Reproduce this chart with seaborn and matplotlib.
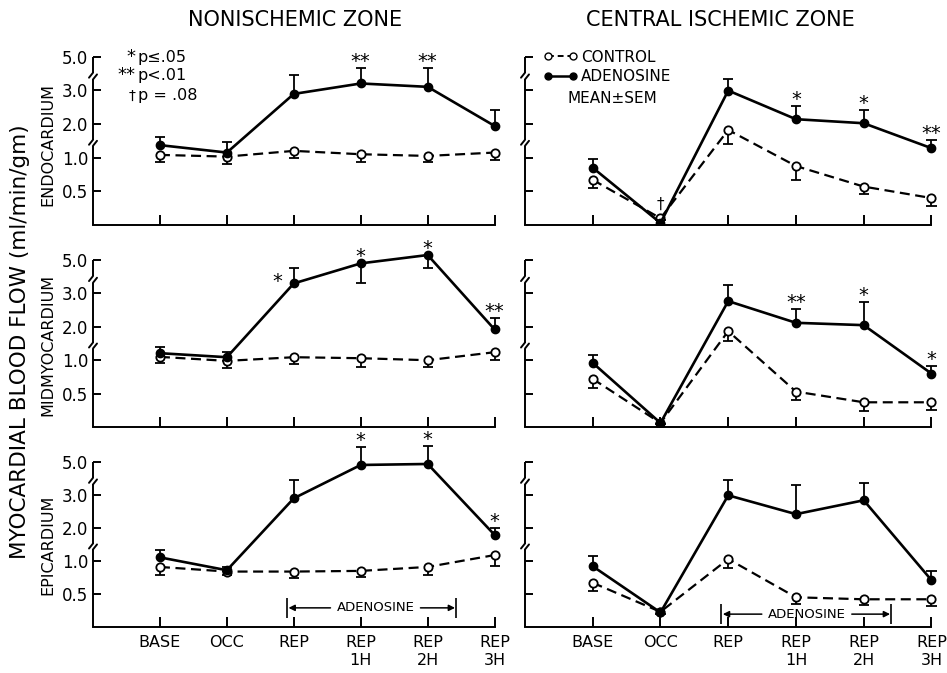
import numpy as np
import matplotlib
matplotlib.use("Agg")
import matplotlib.pyplot as plt
from matplotlib.lines import Line2D
import seaborn as sns

sns.set_theme(style="white")
plt.rcParams['font.family'] = ['DejaVu Sans']
plt.rcParams['text.color'] = 'black'
plt.rcParams['xtick.color'] = 'black'
plt.rcParams['ytick.color'] = 'black'

# categories
timepoints = ['BASE', 'OCC', 'REP', 'REP\n1H', 'REP\n2H', 'REP\n3H']
zones = ['NONISCHEMIC ZONE', 'CENTRAL ISCHEMIC ZONE']
layers = ['ENDOCARDIUM', 'MIDMYOCARDIUM', 'EPICARDIUM']

# broken y axis: 0-1 linear, then 2.0, 3.0, 5.0 equally spaced
ytick_vals = [0.5, 1.0, 2.0, 3.0, 5.0]
ytick_labels = ['0.5', '1.0', '2.0', '3.0', '5.0']

# blood flow (ml/min/gm), mean and SEM
# adenosine SEM: positive = bar drawn up, negative = bar drawn down
# control SEM: bar drawn down
endo_non_ado = [1.37, 1.15, 2.89, 3.40, 3.20, 1.94]
endo_non_ado_sem = [0.25, 0.32, 1.00, 0.90, 1.10, 0.47]
endo_non_ctl = [1.08, 1.03, 1.20, 1.10, 1.05, 1.15]
endo_non_ctl_sem = [0.14, 0.12, 0.20, 0.16, 0.11, 0.19]
endo_non_sig = ['', '', '', '**', '**', '']

endo_isc_ado = [0.85, 0.03, 2.99, 2.14, 2.02, 1.28]
endo_isc_ado_sem = [0.13, 0.0, 0.65, 0.40, 0.40, 0.24]
endo_isc_ctl = [0.67, 0.10, 1.82, 0.875, 0.57, 0.40]
endo_isc_ctl_sem = [0.12, 0.03, 0.42, 0.20, 0.11, 0.12]
endo_isc_sig = ['', '†', '', '*', '*', '**']

mid_non_ado = [1.21, 1.09, 3.60, 4.80, 5.30, 1.92]
mid_non_ado_sem = [0.19, 0.15, 0.90, -1.20, -0.80, 0.33]
mid_non_ctl = [1.10, 0.99, 1.09, 1.06, 1.00, 1.24]
mid_non_ctl_sem = [0.14, 0.10, 0.14, 0.16, 0.10, 0.24]
mid_non_sig = ['', '', '*', '*', '*', '**']

mid_isc_ado = [0.96, 0.06, 2.77, 2.12, 2.05, 0.80]
mid_isc_ado_sem = [0.20, 0.0, 0.73, 0.41, 0.70, 0.11]
mid_isc_ctl = [0.72, 0.06, 1.87, 0.53, 0.37, 0.37]
mid_isc_ctl_sem = [0.14, 0.02, 0.30, 0.13, 0.13, 0.12]
mid_isc_sig = ['', '', '', '**', '*', '*']

epi_non_ado = [1.11, 0.86, 2.90, 4.82, 4.88, 1.79]
epi_non_ado_sem = [0.22, 0.05, 1.00, 1.10, 1.10, 0.20]
epi_non_ctl = [0.91, 0.84, 0.84, 0.85, 0.91, 1.18]
epi_non_ctl_sem = [0.12, 0.05, 0.10, 0.09, 0.12, 0.26]
epi_non_sig = ['', '', '', '*', '*', '*']

epi_isc_ado = [0.92, 0.22, 2.99, 2.42, 2.84, 0.71]
epi_isc_ado_sem = [0.24, 0.0, 0.90, 1.20, 0.86, 0.14]
epi_isc_ctl = [0.67, 0.23, 1.06, 0.45, 0.42, 0.42]
epi_isc_ctl_sem = [0.12, 0.03, 0.16, 0.10, 0.09, 0.10]
epi_isc_sig = ['', '', '', '', '', '']

panels = [
    [(endo_non_ado, endo_non_ado_sem, endo_non_ctl, endo_non_ctl_sem, endo_non_sig),
     (endo_isc_ado, endo_isc_ado_sem, endo_isc_ctl, endo_isc_ctl_sem, endo_isc_sig)],
    [(mid_non_ado, mid_non_ado_sem, mid_non_ctl, mid_non_ctl_sem, mid_non_sig),
     (mid_isc_ado, mid_isc_ado_sem, mid_isc_ctl, mid_isc_ctl_sem, mid_isc_sig)],
    [(epi_non_ado, epi_non_ado_sem, epi_non_ctl, epi_non_ctl_sem, epi_non_sig),
     (epi_isc_ado, epi_isc_ado_sem, epi_isc_ctl, epi_isc_ctl_sem, epi_isc_sig)],
]

# piecewise scale for the broken axis
_vals = np.array([-2.0, 0.0, 0.5, 1.0, 2.0, 3.0, 5.0, 9.0])
_pos = np.array([-4.0, 0.0, 1.0, 2.0, 3.0, 4.0, 5.0, 7.0])


def fwd(v):
    return np.interp(v, _vals, _pos)


def inv(p):
    return np.interp(p, _pos, _vals)


LW = 1.4
x = np.arange(len(timepoints))

fig = plt.figure(figsize=(9.47, 6.73), dpi=100)
W, H = 947, 673
col_left = [93, 525]
col_width = [415, 420]
row_base = [225, 427, 627]
row_height = [188.7, 187, 184.8]


def draw_broken_yaxis(ax):
    trans = ax.get_yaxis_transform()
    for lo, hi in [(0, 1.35), (1.53, 3.64), (4.04, 5.0)]:
        ax.plot([0, 0], [lo, hi], transform=trans, color='black', lw=LW,
                clip_on=False, solid_capstyle='butt')
    for yv, dx, dy in [(1.35, 4, 5), (1.53, -4, -5), (3.64, 4, 5), (4.04, -4, -5)]:
        ax.annotate('', xy=(0, yv), xycoords=trans, xytext=(dx, dy),
                    textcoords='offset pixels',
                    arrowprops=dict(arrowstyle='-', lw=LW, color='black',
                                    shrinkA=0, shrinkB=0))


def draw_errors(ax, xs, means, sems):
    # signed sems: >0 bar up, <0 bar down
    cap = 0.075
    for xi, m, s in zip(xs, means, sems):
        if s == 0:
            continue
        end = m + s
        ax.vlines(xi, m, end, color='black', lw=1.3, zorder=2)
        ax.hlines(end, xi - cap, xi + cap, color='black', lw=1.3, zorder=2)


axes = {}
for r in range(3):
    for c in range(2):
        ado, ado_sem, ctl, ctl_sem, sig = panels[r][c]
        ax = fig.add_axes([col_left[c] / W, (H - row_base[r]) / H,
                           col_width[c] / W, row_height[r] / H])
        axes[(r, c)] = ax

        draw_errors(ax, x, ctl, [-s for s in ctl_sem])
        draw_errors(ax, x, ado, ado_sem)
        sns.lineplot(x=x, y=ctl, ax=ax, color='black', lw=1.6,
                     linestyle=(0, (4.5, 2.5)), marker='o', markersize=6,
                     markerfacecolor='white', markeredgecolor='black',
                     markeredgewidth=1.3, errorbar=None, zorder=3)
        sns.lineplot(x=x, y=ado, ax=ax, color='black', lw=1.9,
                     marker='o', markersize=6, markerfacecolor='black',
                     markeredgecolor='black', markeredgewidth=1.0,
                     errorbar=None, zorder=4)

        ax.set_yscale('function', functions=(fwd, inv))
        ax.set_ylim(0, inv(5.6))
        ax.set_xlim(-1, 5.2)
        ax.set_yticks(ytick_vals)
        ax.set_yticklabels(ytick_labels if c == 0 else [''] * 5)
        ax.set_xticks(x)
        ax.set_xticklabels(timepoints if r == 2 else [''] * 6)
        ax.tick_params(axis='y', direction='in', length=6, width=LW, left=True,
                       pad=3.5, labelsize=12, colors='black')
        ax.tick_params(axis='x', direction='in', length=7, width=LW, bottom=True,
                       pad=6, labelsize=11.5, colors='black')
        ax.grid(False)
        for side in ['top', 'right', 'left']:
            ax.spines[side].set_visible(False)
        ax.spines['bottom'].set_bounds(-1, 5)
        ax.spines['bottom'].set_linewidth(LW)
        ax.spines['bottom'].set_color('black')
        ax.set_xlabel('')
        ax.set_ylabel('')
        draw_broken_yaxis(ax)

        # significance marks
        for i, mark in enumerate(sig):
            if not mark:
                continue
            top = max(ado[i] + max(ado_sem[i], 0), ctl[i])
            if r == 1 and c == 0 and i == 2:
                off = (-16, -19)
            elif mark == '†':
                off = (0, 9)
            else:
                off = (0, 1)
            ax.annotate(mark, xy=(x[i], top), xytext=off,
                        textcoords='offset pixels', ha='center', va='baseline',
                        fontsize=14 if mark != '†' else 11, color='black')

# p-value key (top left panel)
ax = axes[(0, 0)]
for sym, txt, yv in [('*', 'p≤.05', 4.68), ('**', 'p<.01', 3.6), ('†', 'p = .08', 2.71)]:
    ax.text(-0.37, yv, sym, ha='right', va='baseline', fontsize=13 if sym != '†' else 10)
    ax.text(-0.33, yv, txt, ha='left', va='baseline', fontsize=11.5)

# series key (top right panel)
ax = axes[(0, 1)]
handles = [
    Line2D([], [], color='black', lw=1.4, linestyle=(0, (3, 2)), marker='o',
           markersize=5, markerfacecolor='white', markeredgecolor='black'),
    Line2D([], [], color='black', lw=1.8, marker='o', markersize=5,
           markerfacecolor='black', markeredgecolor='black'),
]
ax.legend(handles, ['CONTROL', 'ADENOSINE'], loc='upper left',
          bbox_to_anchor=(0.045, 0.93), frameon=False, borderaxespad=0,
          borderpad=0, handlelength=2.2, handletextpad=0.25, labelspacing=0.3,
          numpoints=2, fontsize=11)
ax.text(0.102, 0.673, 'MEAN±SEM', transform=ax.transAxes, ha='left',
        va='center', fontsize=11)

# adenosine infusion period bracket (bottom panels)
for c, (x0, x1, xc, yv, ylo, yhi) in enumerate([(1.9, 4.43, 3.22, 0.29, 0.14, 0.44),
                                                (1.9, 4.41, 3.16, 0.195, 0.045, 0.345)]):
    ax = axes[(2, c)]
    ax.vlines([x0, x1], ylo, yhi, color='black', lw=1.2)
    arrow = dict(arrowstyle='-|>', lw=1.1, color='black', mutation_scale=9,
                 shrinkA=2, shrinkB=1)
    ax.annotate('ADENOSINE', xy=(x0, yv), xytext=(xc, yv), ha='center',
                va='center', fontsize=9.5, arrowprops=arrow)
    ax.annotate('ADENOSINE', xy=(x1, yv), xytext=(xc, yv), ha='center',
                va='center', fontsize=9.5, color='none', arrowprops=arrow)

# titles and labels
fig.text(295 / W, 1 - 20 / H, zones[0], ha='center', va='center', fontsize=15)
fig.text(720 / W, 1 - 20 / H, zones[1], ha='center', va='center', fontsize=15)
fig.text(20 / W, 1 - 342 / H, 'MYOCARDIAL BLOOD FLOW (ml/min/gm)', rotation=90,
         ha='center', va='center', fontsize=15.5)
for name, yc in zip(layers, [145, 345, 545]):
    fig.text(48 / W, 1 - yc / H, name, rotation=90, ha='center', va='center',
             fontsize=11.5)

fig.savefig('out.png', dpi=100, facecolor='white')
